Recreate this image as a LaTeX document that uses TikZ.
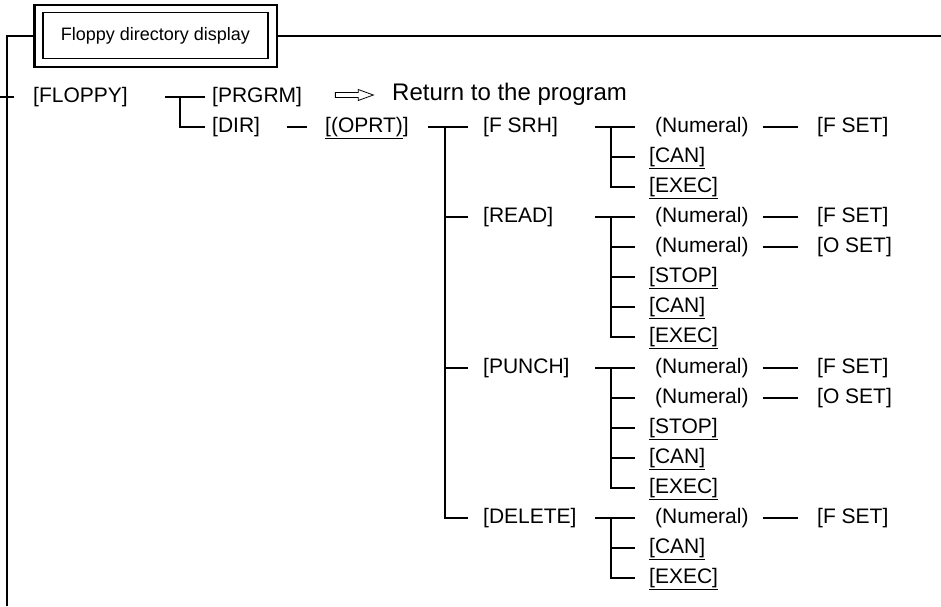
\documentclass[tikz,border=0pt]{standalone}
\usepackage{fontspec}
\setmainfont{Liberation Sans}
\usetikzlibrary{shapes.arrows}
\newcommand{\lbfont}{\fontsize{21}{25}\selectfont}
\newcommand{\retfont}{\fontsize{24}{28}\selectfont}
\newcommand{\ttlfont}{\fontsize{18}{22}\selectfont}

\begin{document}
\begin{tikzpicture}[x=1pt, y=-1pt,
	link/.style={line width=2pt},
	trunk/.style={line width=2pt},
	lbl/.style={anchor=west, inner sep=0pt, font=\lbfont, text height=15pt, text depth=4.5pt},
	numlbl/.style={lbl, inner xsep=6pt}]
	\useasboundingbox (0,0) rectangle (941,606);
	
	% title box
	\node[draw, line width=1.2pt, minimum width=225pt, minimum height=46pt, font=\ttlfont] (title) at (155.5,35.5) {Floppy directory display};
	\draw[line width=2.2pt] ([shift={(-8,-7)}]title.north west) rectangle ([shift={(8,8)}]title.south east);
	
	\coordinate (bot) at (7,606);
	\coordinate (right) at (941,0);
	\coordinate (t1) at (7,97);
	\draw[trunk] ([xshift=-8pt]title.west) -| (bot);
	\draw[trunk] ([xshift=8pt]title.east) -- (title.east -| right);
	\draw[link] ([xshift=-7pt]t1) -- ([xshift=7pt]t1);
	
	% first level
	\node[lbl] (floppy) at (33,97) {[FLOPPY]};
	\node[lbl] (prgrm) at (212,97) {[PRGRM]};
	\node[lbl] (dir) at (212,127) {[DIR]};
	\node[lbl, font=\retfont, text height=17pt, text depth=5pt] (ret) at (392,94) {Return to the program};
	\node[single arrow, draw, line width=0.8pt, minimum height=38pt, minimum width=11pt, inner sep=2pt,
		single arrow head extend=3pt, single arrow tip angle=40] (arr) at (351,95) {};
	\node[lbl] (oprt) at (325,127) {\underline{[(OPRT)}]};
	
	\coordinate (j1) at (180,97);
	\draw[link, shorten >=7pt] ([xshift=-15pt]j1) -- (prgrm.west);
	\draw[link, shorten >=7pt] (j1) |- (dir.west);
	\draw[link, shorten <=27pt, shorten >=18pt] (dir.east) -- (oprt.west);
	
	% second level
	\node[lbl] (fsrh) at (483,127) {[F SRH]};
	\node[lbl] (read) at (483,217) {[READ]};
	\node[lbl] (punch) at (483,368) {[PUNCH]};
	\node[lbl] (delete) at (483,518) {[DELETE]};
	
	\coordinate (j2) at (445,127);
	\draw[link, shorten <=19pt, shorten >=15pt] (oprt.east) -- (fsrh.west);
	\foreach \c in {read,punch,delete}
		\draw[link, shorten >=15pt] (j2) |- (\c.west);
	
	% F SRH
	\node[numlbl] (fsrh-n1) at (649,127) {(Numeral)};
	\node[lbl] (fsrh-f) at (817,127) {[F SET]};
	\node[lbl] (fsrh-can) at (649,157) {\underline{[CAN]}};
	\node[lbl] (fsrh-exec) at (649,187) {\underline{[EXEC]}};
	\coordinate (fsrh-j) at (611,127);
	\draw[link, shorten >=14pt] ([xshift=-16pt]fsrh-j) -- (fsrh-n1.west);
	\foreach \c in {can,exec}
		\draw[link, shorten >=14pt] (fsrh-j) |- (fsrh-\c.west);
	\draw[link, shorten <=8pt, shorten >=19pt] (fsrh-n1.east) -- (fsrh-f.west);
	
	% READ
	\node[numlbl] (read-n1) at (649,217) {(Numeral)};
	\node[lbl] (read-f) at (817,217) {[F SET]};
	\node[numlbl] (read-n2) at (649,247) {(Numeral)};
	\node[lbl] (read-o) at (817,247) {[O SET]};
	\node[lbl] (read-stop) at (649,277) {\underline{[STOP]}};
	\node[lbl] (read-can) at (649,307) {\underline{[CAN]}};
	\node[lbl] (read-exec) at (649,337) {\underline{[EXEC]}};
	\coordinate (read-j) at (611,217);
	\draw[link, shorten >=14pt] ([xshift=-16pt]read-j) -- (read-n1.west);
	\foreach \c in {n2,stop,can,exec}
		\draw[link, shorten >=14pt] (read-j) |- (read-\c.west);
	\draw[link, shorten <=8pt, shorten >=19pt] (read-n1.east) -- (read-f.west);
	\draw[link, shorten <=8pt, shorten >=19pt] (read-n2.east) -- (read-o.west);
	
	% PUNCH
	\node[numlbl] (punch-n1) at (649,368) {(Numeral)};
	\node[lbl] (punch-f) at (817,368) {[F SET]};
	\node[numlbl] (punch-n2) at (649,398) {(Numeral)};
	\node[lbl] (punch-o) at (817,398) {[O SET]};
	\node[lbl] (punch-stop) at (649,428) {\underline{[STOP]}};
	\node[lbl] (punch-can) at (649,458) {\underline{[CAN]}};
	\node[lbl] (punch-exec) at (649,488) {\underline{[EXEC]}};
	\coordinate (punch-j) at (611,368);
	\draw[link, shorten >=14pt] ([xshift=-16pt]punch-j) -- (punch-n1.west);
	\foreach \c in {n2,stop,can,exec}
		\draw[link, shorten >=14pt] (punch-j) |- (punch-\c.west);
	\draw[link, shorten <=8pt, shorten >=19pt] (punch-n1.east) -- (punch-f.west);
	\draw[link, shorten <=8pt, shorten >=19pt] (punch-n2.east) -- (punch-o.west);
	
	% DELETE
	\node[numlbl] (delete-n1) at (649,518) {(Numeral)};
	\node[lbl] (delete-f) at (817,518) {[F SET]};
	\node[lbl] (delete-can) at (649,548) {\underline{[CAN]}};
	\node[lbl] (delete-exec) at (649,578) {\underline{[EXEC]}};
	\coordinate (delete-j) at (611,518);
	\draw[link, shorten >=14pt] ([xshift=-16pt]delete-j) -- (delete-n1.west);
	\foreach \c in {can,exec}
		\draw[link, shorten >=14pt] (delete-j) |- (delete-\c.west);
	\draw[link, shorten <=8pt, shorten >=19pt] (delete-n1.east) -- (delete-f.west);
\end{tikzpicture}
\end{document}
